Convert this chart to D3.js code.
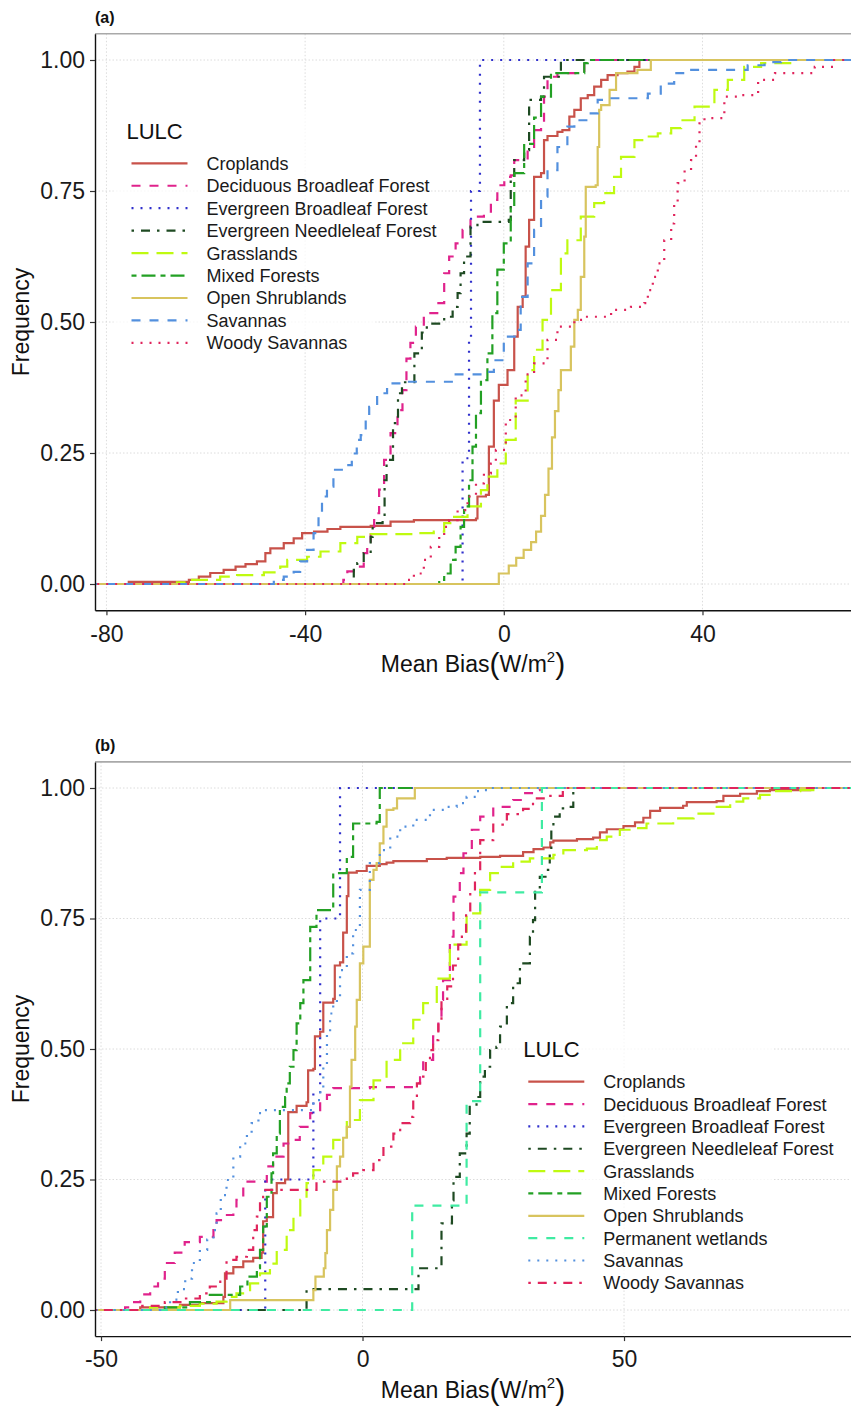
<!DOCTYPE html>
<html>
<head>
<meta charset="utf-8">
<script src="https://cdn.jsdelivr.net/npm/d3@7"></script>
<style>
  body { margin: 0; background: #fff; }
  svg { display: block; font-family: "Liberation Sans", Arial, Helvetica, sans-serif; }
</style>
</head>
<body>
<svg id="chart" width="851" height="1406"></svg>
<script>
// ---- data: ECDF break points [mean bias, cumulative frequency] ----
const namesA = ["Croplands", "Deciduous Broadleaf Forest", "Evergreen Broadleaf Forest",
  "Evergreen Needleleaf Forest", "Grasslands", "Mixed Forests", "Open Shrublands",
  "Savannas", "Woody Savannas"];
const namesB = ["Croplands", "Deciduous Broadleaf Forest", "Evergreen Broadleaf Forest",
  "Evergreen Needleleaf Forest", "Grasslands", "Mixed Forests", "Open Shrublands",
  "Permanent wetlands", "Savannas", "Woody Savannas"];

const xTicksA = [-80, -40, 0, 40];
const xTicksB = [-50, 0, 50];
const yTicks = [0, 0.25, 0.5, 0.75, 1];

// panel (a)
const cropA = [[-75.5,0.004],[-63.4,0.008],[-61.4,0.014],[-59.1,0.021],[-56.4,0.027],[-54.0,0.033],[-52.0,0.038],[-49.7,0.043],[-48.0,0.059],[-47.0,0.068],[-44.3,0.078],[-42.3,0.087],[-40.6,0.097],[-38.2,0.100],[-35.5,0.105],[-32.9,0.109],[-26.8,0.111],[-22.8,0.119],[-18.1,0.122],[-5.6,0.125],[-5.3,0.167],[-3.6,0.170],[-3.0,0.262],[-2.0,0.350],[-1.0,0.380],[0.75,0.408],[2.1,0.472],[2.8,0.529],[3.8,0.549],[4.4,0.644],[5.1,0.695],[6.1,0.777],[7.5,0.784],[8.1,0.847],[8.8,0.855],[10.8,0.863],[11.8,0.866],[13.2,0.892],[14.2,0.905],[15.5,0.927],[16.9,0.933],[18.2,0.949],[19.6,0.962],[20.9,0.971],[22.9,0.975],[24.9,0.978],[26.3,0.987],[27.3,1.0]];
const decidA = [[-32.3,0.008],[-31.5,0.024],[-30.2,0.033],[-28.2,0.059],[-27.5,0.078],[-26.8,0.109],[-26.1,0.135],[-25.1,0.180],[-24.1,0.237],[-22.8,0.288],[-21.4,0.332],[-20.4,0.370],[-19.6,0.43],[-18.8,0.46],[-17.7,0.491],[-16.1,0.517],[-13.4,0.536],[-12.0,0.593],[-11.0,0.625],[-9.7,0.650],[-8.3,0.676],[-6.7,0.701],[-4.0,0.708],[-2.6,0.733],[-1.3,0.761],[0.1,0.777],[1.4,0.780],[2.1,0.809],[4.8,0.828],[6.1,0.866],[7.5,0.880],[8.1,0.930],[8.8,0.968],[10.8,0.975],[16.2,1.0]];
const ebfA = [[-8.3,0.24],[-7.0,0.47],[-6.6,0.75],[-4.8,1.0]];
const enfA = [[-30.2,0.027],[-29.5,0.04],[-28.2,0.059],[-26.8,0.09],[-26.4,0.116],[-24.4,0.122],[-24.0,0.198],[-23.6,0.237],[-22.3,0.307],[-21.3,0.364],[-20.5,0.385],[-18.0,0.44],[-16.5,0.48],[-15.5,0.497],[-12.0,0.51],[-10.3,0.529],[-9.3,0.555],[-8.7,0.593],[-8.0,0.625],[-6.7,0.682],[-5.3,0.691],[1.0,0.695],[1.4,0.771],[2.1,0.809],[4.1,0.828],[5.1,0.924],[7.5,0.93],[8.1,0.968],[11.5,1.0]];
const grassA = [[-65.8,0.003],[-63.1,0.008],[-57.1,0.014],[-53.7,0.017],[-48.3,0.022],[-45.0,0.033],[-43.6,0.046],[-39.6,0.052],[-36.9,0.062],[-32.9,0.078],[-29.5,0.09],[-26.8,0.095],[-18.1,0.097],[-14.1,0.10],[-12.0,0.116],[-10.0,0.128],[-7.3,0.148],[-4.6,0.179],[-3.3,0.205],[-1.3,0.230],[0.4,0.275],[2.4,0.35],[4.8,0.408],[6.1,0.447],[7.8,0.504],[9.5,0.561],[11.5,0.631],[12.8,0.656],[15.5,0.701],[18.2,0.727],[20.2,0.746],[22.2,0.777],[23.6,0.815],[26.3,0.847],[28.3,0.854],[31.0,0.860],[33.7,0.870],[35.7,0.885],[38.4,0.911],[42.4,0.943],[45.1,0.962],[48.4,0.987],[51.8,0.994],[57.9,1.0]];
const mixedA = [[-13.0,0.008],[-12.0,0.02],[-10.7,0.046],[-9.7,0.071],[-8.7,0.109],[-8.0,0.148],[-7.0,0.198],[-6.3,0.262],[-5.6,0.326],[-4.6,0.389],[-3.3,0.44],[-2.3,0.517],[-1.3,0.60],[0.0,0.65],[1.4,0.72],[2.1,0.784],[4.1,0.84],[6.1,0.89],[7.5,0.93],[9.5,0.975],[16.2,0.994],[16.9,1.0]];
const shrubA = [[-1.0,0.02],[1.0,0.035],[2.5,0.05],[4.0,0.065],[5.5,0.08],[6.5,0.10],[7.5,0.13],[8.3,0.17],[9.0,0.22],[9.7,0.28],[10.3,0.33],[11.0,0.37],[11.5,0.408],[13.5,0.453],[14.2,0.504],[14.9,0.523],[15.5,0.586],[16.2,0.663],[16.5,0.758],[18.5,0.761],[18.9,0.834],[19.2,0.905],[19.6,0.914],[21.3,0.943],[22.6,0.975],[26.9,0.981],[29.6,1.0]];
const savA = [[-46.3,0.008],[-44.3,0.014],[-42.3,0.023],[-41.0,0.043],[-39.6,0.065],[-38.3,0.097],[-37.3,0.128],[-36.6,0.167],[-35.6,0.186],[-34.3,0.218],[-32.3,0.227],[-30.6,0.249],[-29.6,0.275],[-28.8,0.284],[-27.8,0.313],[-27.1,0.338],[-25.5,0.364],[-23.5,0.383],[-20.8,0.386],[-10.0,0.40],[-4.0,0.405],[-2.0,0.427],[0.0,0.472],[2.8,0.485],[3.4,0.548],[4.8,0.612],[6.1,0.676],[7.5,0.739],[8.8,0.790],[10.8,0.834],[12.8,0.873],[14.2,0.885],[16.9,0.898],[18.9,0.924],[20.9,0.927],[29.0,0.936],[31.6,0.955],[34.3,0.975],[37.0,0.981],[49.1,0.990],[52.5,0.996],[55.8,1.0]];
const woodyA = [[-19.8,0.008],[-18.1,0.02],[-16.1,0.046],[-14.7,0.071],[-13.0,0.09],[-12.0,0.109],[-11.0,0.122],[-9.3,0.141],[-7.3,0.167],[-5.6,0.192],[-4.0,0.211],[-2.6,0.230],[-1.6,0.256],[0.4,0.313],[2.4,0.36],[4.4,0.40],[6.1,0.421],[8.8,0.466],[10.8,0.491],[14.2,0.504],[16.2,0.510],[21.6,0.523],[25.6,0.529],[28.3,0.536],[29.0,0.561],[30.0,0.586],[31.0,0.612],[32.3,0.656],[33.7,0.688],[34.3,0.727],[35.0,0.765],[36.4,0.790],[37.7,0.809],[38.7,0.841],[39.4,0.879],[40.4,0.889],[44.4,0.930],[47.4,0.933],[51.2,0.962],[54.6,0.975],[62.6,0.987],[66.5,1.0]];

// panel (b)
const cropB = [[-42.5,0.005],[-34.9,0.010],[-31.1,0.013],[-26.6,0.025],[-26.3,0.070],[-24.7,0.082],[-22.8,0.093],[-20.9,0.10],[-19.3,0.11],[-19.0,0.17],[-18.3,0.178],[-17.1,0.224],[-16.4,0.243],[-14.8,0.25],[-14.2,0.379],[-12.6,0.391],[-10.7,0.398],[-10.4,0.459],[-9.4,0.462],[-9.1,0.524],[-8.1,0.533],[-7.5,0.589],[-5.6,0.596],[-5.3,0.66],[-4.3,0.666],[-3.7,0.723],[-3.0,0.793],[-2.7,0.838],[-1.1,0.841],[0.8,0.851],[3.3,0.854],[4.6,0.857],[5.9,0.860],[12.3,0.864],[16.1,0.866],[22.5,0.868],[26.3,0.870],[30.7,0.877],[32.7,0.883],[34.6,0.886],[35.9,0.896],[36.5,0.899],[41.0,0.902],[44.1,0.905],[45.4,0.915],[46.7,0.921],[49.9,0.927],[52.1,0.934],[53.7,0.943],[55.0,0.956],[56.9,0.962],[61.3,0.966],[62.0,0.973],[67.7,0.975],[69.0,0.985],[72.2,0.989],[75.4,0.994],[77.9,0.996],[85.6,1.0]];
const decidB = [[-45.4,0.005],[-43.9,0.015],[-42.5,0.03],[-40.6,0.045],[-39.1,0.06],[-37.8,0.09],[-35.9,0.11],[-34.0,0.13],[-31.1,0.14],[-28.5,0.153],[-27.9,0.172],[-26.6,0.182],[-24.7,0.185],[-24.1,0.211],[-22.8,0.246],[-18.3,0.275],[-17.1,0.294],[-15.1,0.319],[-13.2,0.326],[-12.0,0.351],[-10.0,0.377],[-8.1,0.402],[-6.8,0.412],[-5.6,0.425],[1.4,0.427],[10.4,0.434],[11.0,0.453],[11.6,0.479],[13.5,0.524],[14.5,0.556],[15.1,0.594],[15.4,0.632],[16.7,0.715],[17.4,0.792],[18.6,0.837],[19.3,0.875],[20.9,0.920],[22.5,0.945],[25.0,0.964],[28.8,0.977],[30.7,0.990],[32.7,0.996],[33.9,1.0]];
const ebfB = [[-18.6,0.25],[-9.4,0.415],[-8.1,0.75],[-4.3,1.0]];
const enfB = [[-10.7,0.04],[10.7,0.08],[15.1,0.166],[17.1,0.21],[17.4,0.255],[18.6,0.30],[19.9,0.338],[20.5,0.389],[21.8,0.408],[22.5,0.447],[23.4,0.466],[24.4,0.498],[25.6,0.504],[26.3,0.543],[27.6,0.588],[28.8,0.626],[30.1,0.664],[32.0,0.715],[32.6,0.747],[33.0,0.805],[33.9,0.830],[35.2,0.843],[35.8,0.881],[36.1,0.920],[36.5,0.945],[37.7,0.961],[39.6,0.964],[40.3,1.0]];
const grassB = [[-40.6,0.005],[-34.9,0.008],[-31.1,0.012],[-27.9,0.016],[-26.0,0.025],[-24.1,0.032],[-21.5,0.051],[-19.6,0.07],[-17.7,0.089],[-16.4,0.115],[-14.5,0.153],[-13.2,0.179],[-11.9,0.211],[-10.7,0.243],[-9.4,0.268],[-7.5,0.294],[-5.6,0.326],[-3.0,0.364],[-0.5,0.402],[2.1,0.44],[4.6,0.479],[7.2,0.511],[9.7,0.556],[11.6,0.588],[14.2,0.635],[16.7,0.70],[19.9,0.76],[22.5,0.805],[24.4,0.837],[26.3,0.849],[28.8,0.859],[32.0,0.865],[36.5,0.872],[38.4,0.881],[42.9,0.884],[44.8,0.900],[46.7,0.907],[49.2,0.920],[52.4,0.923],[54.3,0.932],[59.4,0.942],[63.3,0.951],[67.1,0.964],[70.3,0.974],[72.8,0.980],[76.0,0.987],[78.5,0.994],[83.7,0.996],[86.2,1.0]];
const mixedB = [[-37.8,0.005],[-33.0,0.015],[-29.2,0.029],[-23.4,0.045],[-22.0,0.064],[-20.2,0.08],[-19.6,0.115],[-19.0,0.16],[-18.3,0.217],[-17.4,0.262],[-17.1,0.30],[-16.4,0.338],[-15.8,0.389],[-14.8,0.408],[-14.5,0.434],[-13.9,0.466],[-13.2,0.498],[-12.6,0.549],[-11.9,0.588],[-11.3,0.632],[-10.0,0.734],[-8.8,0.766],[-5.6,0.837],[-3.0,0.868],[-1.8,0.932],[2.7,0.935],[3.3,1.0]];
const shrubB = [[-25.3,0.019],[-9.4,0.038],[-9.0,0.064],[-7.4,0.08],[-7.1,0.109],[-6.8,0.153],[-6.2,0.192],[-5.6,0.23],[-4.9,0.275],[-4.3,0.294],[-3.7,0.330],[-3.0,0.351],[-2.4,0.428],[-2.1,0.479],[-1.4,0.543],[-1.1,0.594],[-0.5,0.664],[0.15,0.696],[1.4,0.824],[2.1,0.843],[2.7,0.856],[3.3,0.894],[4.0,0.926],[4.6,0.958],[5.9,0.961],[6.6,0.980],[10.0,1.0]];
const wetB = [[9.5,0.2],[19.9,0.4],[22.5,0.8],[34.3,1.0]];
const savB = [[-38.7,0.005],[-36.8,0.02],[-35.3,0.04],[-33.9,0.06],[-32.6,0.09],[-31.1,0.115],[-29.7,0.135],[-28.5,0.153],[-27.9,0.185],[-27.1,0.22],[-26.0,0.249],[-24.7,0.294],[-23.4,0.319],[-22.1,0.338],[-21.2,0.358],[-19.9,0.377],[-19.3,0.383],[-9.4,0.402],[-8.1,0.421],[-7.5,0.466],[-6.8,0.530],[-6.2,0.568],[-5.6,0.584],[-4.9,0.60],[-4.3,0.651],[-3.0,0.683],[-1.8,0.728],[-0.5,0.805],[1.4,0.856],[3.3,0.881],[5.3,0.907],[7.2,0.926],[9.7,0.939],[12.9,0.958],[16.1,0.964],[18.0,0.971],[19.9,0.983],[21.8,0.994],[23.1,0.996],[24.4,1.0]];
const woodyB = [[-42.5,0.008],[-37.8,0.015],[-34.0,0.022],[-31.1,0.032],[-29.2,0.045],[-27.2,0.06],[-26.0,0.096],[-24.1,0.102],[-22.1,0.115],[-20.9,0.153],[-20.2,0.179],[-19.6,0.211],[-19.0,0.23],[-8.8,0.246],[-3.0,0.255],[-1.8,0.262],[0.15,0.268],[2.1,0.287],[4.0,0.313],[5.9,0.338],[7.2,0.358],[9.1,0.370],[9.7,0.402],[10.4,0.434],[11.0,0.447],[12.1,0.48],[12.9,0.498],[13.5,0.517],[14.5,0.556],[15.1,0.594],[16.2,0.62],[17.3,0.66],[18.3,0.70],[19.0,0.72],[19.8,0.76],[20.6,0.80],[21.5,0.84],[22.5,0.90],[25.0,0.93],[27.6,0.95],[30.7,0.96],[32.6,0.98],[35.3,0.985],[38.3,1.0]];

const seriesA = [cropA, decidA, ebfA, enfA, grassA, mixedA, shrubA, savA, woodyA];
const seriesB = [cropB, decidB, ebfB, enfB, grassB, mixedB, shrubB, wetB, savB, woodyB];

// ---- styles ----
const colour = {
  "Croplands": "#C8524A",
  "Deciduous Broadleaf Forest": "#E0238C",
  "Evergreen Broadleaf Forest": "#2F2FCC",
  "Evergreen Needleleaf Forest": "#1E4A22",
  "Grasslands": "#BFFA10",
  "Mixed Forests": "#23A024",
  "Open Shrublands": "#D8C45E",
  "Permanent wetlands": "#3FEBA2",
  "Savannas": "#5390DE",
  "Woody Savannas": "#E0245C"
};
const dashes = {
  solid: null, dashed: "9,9", dotted: "2,7", dotdash: "2.5,7,9,7",
  longdash: "17,8", twodash: "5,5,14,5"
};
const typesA = ["solid", "dashed", "dotted", "dotdash", "longdash", "twodash", "solid", "dashed", "dotted"];
const typesB = ["solid", "dashed", "dotted", "dotdash", "longdash", "twodash", "solid", "dashed", "dotted", "dotdash"];

const svg = d3.select("#chart");
const W = 851;

function drawPanel(p) {
  const left = 95, right = W;
  const x = d3.scaleLinear().domain(p.xDomain).range([left, right]);
  const y = d3.scaleLinear().domain([-0.05, 1.05]).range([p.bottom, p.top]);
  const g = svg.append("g");

  // panel tag
  g.append("text").attr("x", 95).attr("y", p.top - 11)
    .attr("font-size", 16).attr("font-weight", "bold").attr("fill", "#111").text(p.tag);

  // grid
  g.append("g").selectAll("line").data(yTicks).join("line")
    .attr("x1", left).attr("x2", right).attr("y1", d => y(d)).attr("y2", d => y(d))
    .attr("stroke", "#dcdcdc").attr("stroke-width", 1).attr("stroke-dasharray", "1.5,2");
  g.append("g").selectAll("line").data(p.xTicks).join("line")
    .attr("x1", d => x(d)).attr("x2", d => x(d)).attr("y1", p.top).attr("y2", p.bottom)
    .attr("stroke", "#dcdcdc").attr("stroke-width", 1).attr("stroke-dasharray", "1.5,2");

  // top frame
  g.append("line").attr("x1", left).attr("x2", right).attr("y1", p.top).attr("y2", p.top)
    .attr("stroke", "#a9a9a9").attr("stroke-width", 1.6);

  // curves
  const clipId = "clip" + p.tag.replace(/\W/g, "");
  svg.append("clipPath").attr("id", clipId).append("rect")
    .attr("x", left).attr("y", p.top).attr("width", right - left).attr("height", p.bottom - p.top);
  const line = d3.line().x(d => x(d[0])).y(d => y(d[1])).curve(d3.curveStepAfter);
  const cg = g.append("g").attr("clip-path", `url(#${clipId})`);
  p.names.forEach((name, i) => {
    const pts = [[p.xDomain[0] - 5, 0]].concat(p.series[i], [[p.xDomain[1] + 5, 1]]);
    cg.append("path").datum(pts)
      .attr("d", line).attr("fill", "none")
      .attr("stroke", colour[name]).attr("stroke-width", 2.2)
      .attr("stroke-dasharray", dashes[p.types[i]]);
  });

  // axes (plain hyphen for negatives, as in the original)
  const ax = g.append("g").attr("transform", `translate(0,${p.bottom})`)
    .call(d3.axisBottom(x).tickValues(p.xTicks).tickFormat(d => String(d))
      .tickSize(5).tickSizeOuter(0).tickPadding(10));
  const ay = g.append("g").attr("transform", `translate(${left},0)`)
    .call(d3.axisLeft(y).tickValues(yTicks).tickFormat(d3.format(".2f")).tickSize(5).tickSizeOuter(0).tickPadding(5));
  [ax, ay].forEach(a => {
    a.select(".domain").attr("stroke", "#111").attr("stroke-width", 1.4);
    a.selectAll(".tick line").attr("stroke", "#333").attr("stroke-width", 1.2);
    a.selectAll(".tick text").attr("font-size", 23).attr("fill", "#1a1a1a")
      .attr("font-family", "'Liberation Sans', Arial, sans-serif");
  });

  // axis titles
  const xt = g.append("text").attr("x", (left + right) / 2).attr("y", p.bottom + 62)
    .attr("text-anchor", "middle").attr("font-size", 23).attr("fill", "#111");
  xt.append("tspan").text("Mean Bias");
  xt.append("tspan").attr("font-size", 30).attr("dy", 2).text("(");
  xt.append("tspan").attr("dy", -2).text("W/m");
  xt.append("tspan").attr("font-size", 15).attr("dy", -10).text("2");
  xt.append("tspan").attr("font-size", 30).attr("dy", 12).text(")");

  g.append("text").attr("transform", `translate(29,${(p.top + p.bottom) / 2}) rotate(-90)`)
    .attr("text-anchor", "middle").attr("font-size", 23).attr("fill", "#111").text("Frequency");

  // legend
  const L = p.legend;
  const lg = g.append("g");
  lg.append("rect").attr("x", L.x - 13).attr("y", L.titleY - 28)
    .attr("width", 262).attr("height", 32 + p.names.length * L.step)
    .attr("fill", "#fff").attr("fill-opacity", 0.75);
  lg.append("text").attr("x", L.x).attr("y", L.titleY).attr("font-size", 22)
    .attr("fill", "#111").text("LULC");
  p.names.forEach((name, i) => {
    const cy = L.firstY + i * L.step;
    lg.append("line").attr("x1", L.x + 5).attr("x2", L.x + 61).attr("y1", cy).attr("y2", cy)
      .attr("stroke", colour[name]).attr("stroke-width", 2.2)
      .attr("stroke-dasharray", dashes[p.types[i]]);
    lg.append("text").attr("x", L.x + 80).attr("y", cy).attr("dy", "0.36em")
      .attr("font-size", 18).attr("fill", "#1a1a1a").text(name);
  });
}

drawPanel({
  tag: "(a)", top: 33.8, bottom: 610.2, xDomain: [-82.3, 69.9], xTicks: xTicksA,
  names: namesA, series: seriesA, types: typesA,
  legend: { x: 126.5, titleY: 138.5, firstY: 163.3, step: 22.45 }
});
drawPanel({
  tag: "(b)", top: 761.9, bottom: 1336.1, xDomain: [-51.15, 93.4], xTicks: xTicksB,
  names: namesB, series: seriesB, types: typesB,
  legend: { x: 523.3, titleY: 1056.7, firstY: 1081.7, step: 22.35 }
});
</script>
</body>
</html>
